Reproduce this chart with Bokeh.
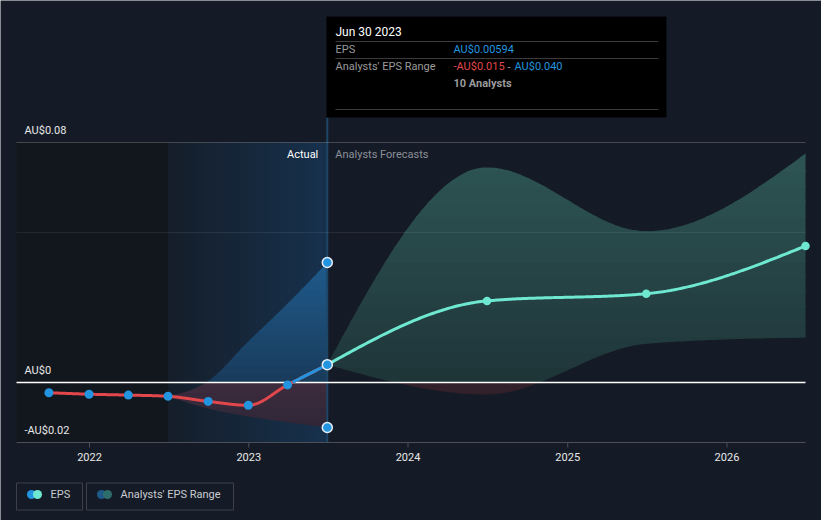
import numpy as np
import pandas as pd
from bokeh.plotting import figure
from bokeh.models import Range1d
from bokeh.core.properties import value
from bokeh.embed import file_html
from bokeh.resources import INLINE

# ---------------- data ----------------
hist_dates = ["2021-09-30", "2021-12-31", "2022-03-31", "2022-06-30",
              "2022-09-30", "2022-12-31", "2023-03-31", "2023-06-30"]
hist_eps = [-0.0034, -0.0039, -0.0042, -0.0046, -0.0063, -0.0076, -0.0008, 0.00594]

range_dates = ["2022-06-30", "2022-09-30", "2022-12-31", "2023-03-31", "2023-06-30"]
range_low = [-0.0046, -0.0087, -0.0113, -0.0133, -0.015]
range_high = [-0.0046, 0.0005, 0.0137, 0.0263, 0.040]

fc_dates = ["2023-06-30", "2024-06-30", "2025-06-30", "2026-06-30"]
fc_eps = [0.00594, 0.0272, 0.0296, 0.0455]
fc_low = [0.00594, -0.0040, 0.0129, 0.0150]
fc_high = [0.00594, 0.0717, 0.0504, 0.0763]

y_ticks = [-0.02, 0.0, 0.08]
y_tick_labels = ["-AU$0.02", "AU$0", "AU$0.08"]
x_tick_dates = ["2022-01-01", "2023-01-01", "2024-01-01", "2025-01-01", "2026-01-01"]
x_tick_labels = ["2022", "2023", "2024", "2025", "2026"]

chart_end = "2026-06-30"
past_start = "2022-06-30"
now_date = "2023-06-30"
y_min, y_max = -0.02, 0.08

# ---------------- style ----------------
BG = "#151b26"
FONT = "Roboto"
RED = "#e2474b"
BLUE = "#2394df"
TEAL = "#6fe8d2"


def ms(s):
    return pd.Timestamp(s).value / 1e6


def hex2rgb(h):
    h = h.lstrip("#")
    return np.array([int(h[i:i + 2], 16) for i in (0, 2, 4)], float)


def mix(c1, c2, t):
    a, b = hex2rgb(c1), hex2rgb(c2)
    c = a + (b - a) * t
    return "#%02x%02x%02x" % tuple(int(round(v)) for v in c)


def monotone(xs, ys, n=80):
    x = np.asarray(xs, float)
    y = np.asarray(ys, float)
    k = len(x)
    h = np.diff(x)
    s = np.diff(y) / h
    t = np.zeros(k)
    for i in range(1, k - 1):
        p_ = (s[i - 1] * h[i] + s[i] * h[i - 1]) / (h[i - 1] + h[i])
        t[i] = (np.sign(s[i - 1]) + np.sign(s[i])) * min(abs(s[i - 1]), abs(s[i]), 0.5 * abs(p_))
    if k > 2:
        t[0] = (3 * s[0] - t[1]) / 2
        t[-1] = (3 * s[-1] - t[-2]) / 2
    else:
        t[:] = s[0]
    ox, oy = [], []
    for i in range(k - 1):
        u = np.linspace(0, 1, n, endpoint=(i == k - 2))
        h00 = 2 * u**3 - 3 * u**2 + 1
        h10 = u**3 - 2 * u**2 + u
        h01 = -2 * u**3 + 3 * u**2
        h11 = u**3 - u**2
        ox.append(x[i] + u * h[i])
        oy.append(h00 * y[i] + h10 * h[i] * t[i] + h01 * y[i + 1] + h11 * h[i] * t[i + 1])
    return np.concatenate(ox), np.concatenate(oy)


# ---------------- canvas mapping (frame = whole canvas) ----------------
W, H = 821, 520
PLOT_L, PLOT_R, PLOT_T, PLOT_B = 16, 805, 142, 442
x_ref = ms("2022-01-01")
x_last = ms(chart_end)
ms_per_px = (x_last - x_ref) / (PLOT_R - 89)
val_per_px = (y_max - y_min) / (PLOT_B - PLOT_T)


def X(px):
    return x_last + (px - PLOT_R) * ms_per_px


def Y(py):
    return y_min - (py - PLOT_B) * val_per_px


x_first = X(PLOT_L)

p = figure(width=W, height=H, x_range=Range1d(X(0), X(W)), y_range=Range1d(Y(H), Y(0)),
           toolbar_location=None, output_backend="svg", min_border=0,
           x_axis_location=None, y_axis_location=None,
           background_fill_color=BG, border_fill_color=BG, outline_line_color=None)
p.grid.visible = False

# backgrounds
ps, nw = ms(past_start), ms(now_date)
p.quad(left=[x_first], right=[ps], bottom=[y_min], top=[y_max], fill_color="#12161d", line_color=None)
nslice = 40
edges = np.linspace(ps, nw, nslice + 1)
p.quad(left=edges[:-1], right=edges[1:] + ms_per_px * 0.6, bottom=y_min, top=y_max,
       fill_color=[mix("#151e2a", "#17314d", (j + 0.5) / nslice) for j in range(nslice)],
       line_color=None)


def grad_band(xs, lo, hi, ya, yb, ca, cb, n=16):
    lev = np.linspace(ya, yb, n + 1)
    eps = (yb - ya) / n * 0.15
    for j in range(n):
        a, b = lev[j], lev[j + 1] + (eps if j < n - 1 else 0)
        col = mix(ca, cb, (j + 0.5) / n)
        p.varea(x=xs, y1=np.clip(lo, a, b), y2=np.clip(hi, a, b), fill_color=col)


# past range band
rx = [ms(d) for d in range_dates]
bx, blo = monotone(rx, range_low)
_, bhi = monotone(rx, range_high)
grad_band(bx, blo, bhi, 0.0, 0.045, "#193b5b", "#1f5e91")
grad_band(bx, blo, bhi, -0.02, 0.0, "#292536", "#3e2c3d")

# forecast band
fx = [ms(d) for d in fc_dates]
gx, glo = monotone(fx, fc_low)
_, ghi = monotone(fx, fc_high)
grad_band(gx, glo, ghi, 0.0, 0.08, "#1f3538", "#2e5656")
grad_band(gx, glo, ghi, -0.02, 0.0, "#2a1d26", "#33212b")

# vertical "now" line
p.segment(x0=[nw], x1=[nw], y0=[y_min], y1=[Y(117)], line_color="#1d4666", line_width=2)

# grid lines
p.segment(x0=[x_first], x1=[x_last], y0=[y_max], y1=[y_max], line_color="#ffffff", line_alpha=0.2, line_width=1)
p.segment(x0=[x_first], x1=[x_last], y0=[0.05], y1=[0.05], line_color="#ffffff", line_alpha=0.08, line_width=1)
p.segment(x0=[x_first], x1=[x_last], y0=[0.0], y1=[0.0], line_color="#ffffff", line_width=1.5)

# x axis
xt = [ms(d) for d in x_tick_dates]
p.segment(x0=[x_first], x1=[x_last], y0=[y_min], y1=[y_min], line_color="#4a4f58", line_width=1)
p.segment(x0=xt, x1=xt, y0=[y_min] * len(xt), y1=[y_min - 5 * val_per_px] * len(xt),
          line_color="#4a4f58", line_width=1)
p.text(x=xt, y=[y_min] * len(xt), text=x_tick_labels, y_offset=14, text_align="center",
       text_baseline="middle", text_color="#e8e8e8", text_font=value(FONT), text_font_size="11px")

# y tick labels (inside plot)
p.text(x=[x_first] * len(y_ticks), y=y_ticks, text=y_tick_labels, x_offset=8, y_offset=-12,
       text_baseline="middle", text_align="left", text_color="#e8e8e8",
       text_font=value(FONT), text_font_size="11px")

# Actual / Analysts Forecasts
p.text(x=[nw], y=[Y(154)], text=["Actual"], x_offset=-9, text_align="right",
       text_baseline="middle", text_color="#ffffff", text_font=value(FONT), text_font_size="11px")
p.text(x=[nw], y=[Y(154)], text=["Analysts Forecasts"], x_offset=8, text_align="left",
       text_baseline="middle", text_color="#8a8f98", text_font=value(FONT), text_font_size="11px")

# EPS lines
hx = [ms(d) for d in hist_dates]
lx, ly = monotone(hx, hist_eps)
p.line(lx, ly, line_color=RED, line_width=3)
p.line(lx, np.where(ly >= 0, ly, np.nan), line_color=BLUE, line_width=3)
tx, ty = monotone(fx, fc_eps)
p.line(tx, ty, line_color=TEAL, line_width=3)

# points
p.scatter(hx[:-1], hist_eps[:-1], size=9, fill_color=BLUE, line_color=None)
p.scatter(fx[1:], fc_eps[1:], size=8.5, fill_color=TEAL, line_color=None)
p.scatter([nw, nw, nw], [hist_eps[-1], range_low[-1], range_high[-1]], size=10,
          fill_color=BLUE, line_color="#e8eef5", line_width=1.5)

# tooltip
p.quad(left=[X(326)], right=[X(666)], top=[Y(16)], bottom=[Y(117)], fill_color="#000000", line_color=None)
p.segment(x0=[X(335)] * 3, x1=[X(658)] * 3, y0=[Y(41), Y(58), Y(109)], y1=[Y(41), Y(58), Y(109)],
          line_color="#3c3c3c", line_width=1)
tt = dict(text_baseline="middle", text_align="left", text_font=value(FONT), text_font_size="11px")
p.text(x=[X(335)], y=[Y(31)], text=["Jun 30 2023"], text_color="#ffffff", **{**tt, "text_font_size": "12px"})
p.text(x=[X(335), X(335)], y=[Y(49), Y(66)], text=["EPS", "Analysts' EPS Range"], text_color="#9a9a9a", **tt)
p.text(x=[X(453)], y=[Y(49)], text=["AU$%.5f" % hist_eps[-1]], text_color=BLUE, **tt)
p.text(x=[X(453)], y=[Y(66)], text=["-AU$%.3f" % abs(range_low[-1])], text_color=RED, **tt)
p.text(x=[X(507)], y=[Y(66)], text=["-"], text_color="#9a9a9a", **tt)
p.text(x=[X(514)], y=[Y(66)], text=["AU$%.3f" % range_high[-1]], text_color=BLUE, **tt)
p.text(x=[X(453)], y=[Y(83)], text=["10 Analysts"], text_color="#9a9a9a", text_font_style="bold", **tt)

# legend
leg_names = ["EPS", "Analysts' EPS Range"]
leg_left = [16, 86]
leg_right = [82, 233]
leg_c1 = [BLUE, "#1d5a8a"]
leg_c2 = [TEAL, "#2f6d6b"]
p.quad(left=[X(v) for v in leg_left], right=[X(v) for v in leg_right],
       top=[Y(482.5)] * 2, bottom=[Y(509.5)] * 2,
       fill_color=None, line_color="#3b4049", line_width=1)
p.scatter([X(v + 15) for v in leg_left], [Y(494)] * 2, size=9, fill_color=leg_c1, line_color=None)
p.scatter([X(v + 21) for v in leg_left], [Y(494)] * 2, size=9, fill_color=leg_c2, line_color=None)
p.text(x=[X(v + 34) for v in leg_left], y=[Y(494)] * 2, text=leg_names, text_baseline="middle",
       text_color="#c9ccd1", text_font=value(FONT), text_font_size="11px")

open("out.html", "w").write(file_html(p, INLINE))
